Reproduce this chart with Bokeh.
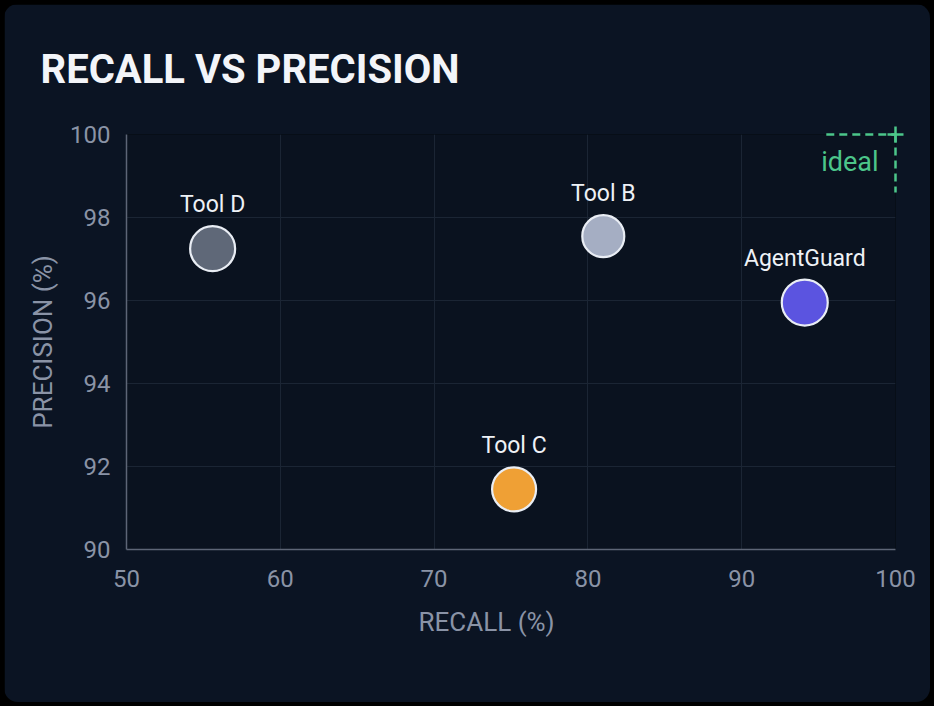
from bokeh.plotting import figure
from bokeh.models import ColumnDataSource, Range1d, FixedTicker, GlobalInlineStyleSheet, Title
from bokeh.core.properties import value
from bokeh.embed import file_html
from bokeh.resources import INLINE

# ---- data ----
tools = ["Tool D", "Tool B", "AgentGuard", "Tool C"]
recall = [55.6, 81.0, 94.1, 75.2]
precision = [97.25, 97.55, 95.95, 91.45]
colors = ["#5f6878", "#a5aec3", "#5b54e0", "#efa035"]
sizes = [45, 42, 46, 44]
x_ticks = [50, 60, 70, 80, 90, 100]
y_ticks = [90, 92, 94, 96, 98, 100]
ideal_recall = 100
ideal_precision = 100
ideal_label = "ideal"
x_label = "RECALL (%)"
y_label = "PRECISION (%)"
title_text = "RECALL VS PRECISION"

FONT = "Roboto"
CARD = "#0b1423"
PLOT_BG = "#0a121f"
GRID = "#1b2534"
AXIS = "#5d6576"
TICK_TXT = "#8a93a6"
GREEN = "#4cc68a"

src = ColumnDataSource(dict(
    x=recall, y=precision, name=tools, color=colors, size=sizes,
    loff=[-(s / 2 + 8) for s in sizes],
))

p = figure(width=926, height=698, output_backend="svg", toolbar_location=None,
           x_range=Range1d(50, 100), y_range=Range1d(90, 100),
           min_border_left=122, min_border_right=35, min_border_top=130,
           min_border_bottom=153)

p.background_fill_color = PLOT_BG
p.border_fill_color = CARD
p.outline_line_color = None
p.stylesheets = [GlobalInlineStyleSheet(css="body{background:#000;}")]
p.styles = {"border-radius": "14px", "overflow": "hidden", "margin": "4px"}

# title
p.title.text = title_text
p.title.text_font = FONT
p.title.text_font_size = "40px"
p.title.text_font_style = "bold"
p.title.text_color = "#f3f5f9"
p.title.align = "left"
p.title.vertical_align = "top"
p.title.offset = -86
p.title.standoff = 80

# x axis label as a below title (slightly left of centre, as in the reference)
p.add_layout(Title(text=x_label, align="left", offset=292, standoff=30,
                   text_font=FONT, text_font_size="26px", text_font_style="normal",
                   text_color=TICK_TXT), "below")

# grid
for g in (p.xgrid, p.ygrid):
    g.grid_line_color = GRID
    g.grid_line_width = 1
p.xgrid.ticker = FixedTicker(ticks=x_ticks)
p.ygrid.ticker = FixedTicker(ticks=y_ticks)

# axes
p.xaxis.ticker = FixedTicker(ticks=x_ticks)
p.yaxis.ticker = FixedTicker(ticks=y_ticks)
for ax in (p.xaxis[0], p.yaxis[0]):
    ax.axis_line_color = AXIS
    ax.axis_line_width = 1.5
    ax.major_tick_line_color = None
    ax.minor_tick_line_color = None
    ax.major_label_text_font = FONT
    ax.major_label_text_font_size = "24px"
    ax.major_label_text_color = TICK_TXT
    ax.axis_label_text_font = FONT
    ax.axis_label_text_font_size = "26px"
    ax.axis_label_text_font_style = "normal"
    ax.axis_label_text_color = TICK_TXT
p.yaxis.axis_label = y_label
p.xaxis.major_label_standoff = 14
p.yaxis.major_label_standoff = 10
p.yaxis.axis_label_standoff = 9

# ideal bracket
p.line(x=[ideal_recall - 4.5, ideal_recall], y=[ideal_precision, ideal_precision],
       line_color=GREEN, line_width=2.5, line_dash="8 5", level="overlay")
p.line(x=[ideal_recall, ideal_recall], y=[ideal_precision, ideal_precision - 1.4],
       line_color=GREEN, line_width=2.5, line_dash="8 5", level="overlay")
p.scatter(x=[ideal_recall], y=[ideal_precision], marker="cross", size=16,
          line_color=GREEN, line_width=2.5, level="overlay")
p.text(x=[ideal_recall], y=[ideal_precision], text=[ideal_label],
       x_offset=-17, y_offset=11, text_align="right", text_baseline="top",
       text_font=value(FONT), text_font_size="27px", text_color=GREEN)

# points
p.scatter(x="x", y="y", size="size", fill_color="color", line_color="#e9edf4",
          line_width=2.2, source=src)
p.text(x="x", y="y", text="name", y_offset="loff", text_align="center",
       text_baseline="bottom", text_font=value(FONT), text_font_size="23px",
       text_color="#eef1f6", source=src)

open("out.html", "w").write(file_html(p, INLINE))
